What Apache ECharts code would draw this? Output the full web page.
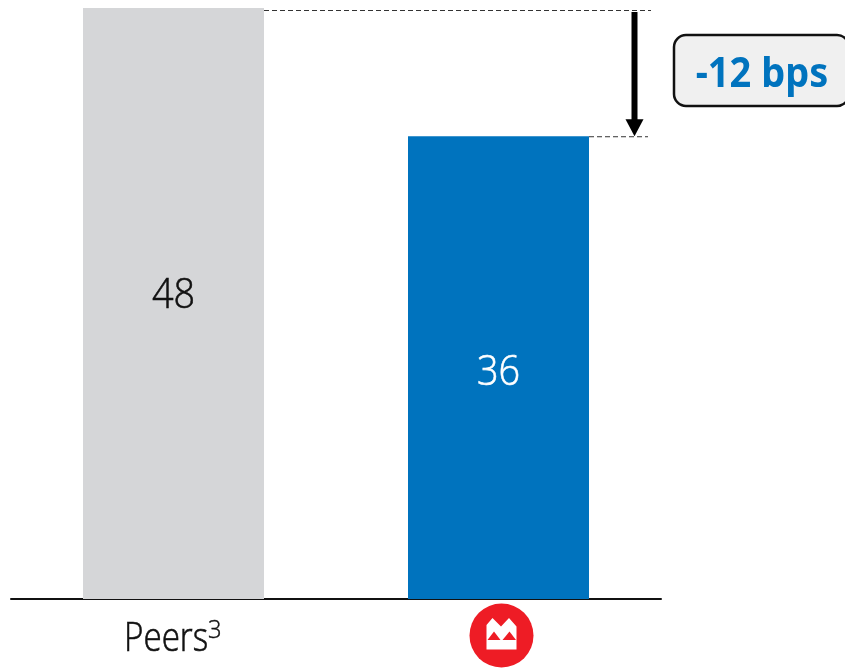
<!DOCTYPE html>
<html>
<head>
<meta charset="utf-8">
<style>html,body{margin:0;padding:0;background:#fff}#chart{width:845px;height:671px}</style>
<script src="https://cdn.jsdelivr.net/npm/echarts@6/dist/echarts.min.js"></script>
</head>
<body>
<div id="chart"></div>
<script>
// Net loan loss ratio comparison, in basis points
const categories = ['Peers', 'BMO'];
const values = [48, 36];
const barColors = ['#D5D6D8', '#0073BE'];
const labelColors = ['#111111', '#FFFFFF'];
const labelYs = [296, 373];
const differenceLabel = '-12 bps';

const axisBase = -7.3;
const BAR_WIDTH = 181;
const FONT = '"Open Sans", "Noto Sans", sans-serif';
const BOLD_FONT = '"Noto Sans", sans-serif';

const chart = echarts.init(document.getElementById('chart'), null, { renderer: 'canvas' });

// Bars run from the axis floor up to their value, with the value printed inside
function renderBar(params, api) {
  const i = api.value(0);
  const top = api.coord([i, api.value(1)]);
  const floor = api.coord([i, axisBase]);
  return {
    type: 'group',
    children: [
      {
        type: 'rect',
        shape: { x: top[0] - BAR_WIDTH / 2, y: top[1], width: BAR_WIDTH, height: floor[1] - top[1] },
        style: { fill: barColors[i] }
      },
      {
        type: 'text',
        x: top[0],
        y: labelYs[i],
        scaleX: 0.88,
        style: {
          text: String(api.value(1)),
          fontFamily: FONT,
          fontSize: 43,
          fontWeight: 300,
          fill: labelColors[i],
          stroke: labelColors[i],
          lineWidth: 0.6,
          align: 'center',
          verticalAlign: 'middle'
        }
      }
    ]
  };
}

chart.setOption({
  animation: false,
  backgroundColor: '#ffffff',
  grid: { left: 11, right: 184, top: 8, bottom: 72 },
  xAxis: {
    type: 'category',
    data: categories,
    axisTick: { show: false },
    axisLine: { onZero: false, lineStyle: { color: '#111111', width: 2 } },
    axisLabel: { show: false }
  },
  yAxis: { type: 'value', min: axisBase, max: 48, show: false, splitLine: { show: false } },
  series: [{
    type: 'custom',
    renderItem: renderBar,
    encode: { x: 0, y: 1 },
    z: 1,
    data: values.map((v, i) => [i, v])
  }]
});

// Annotation layer: positions derive from the chart's scales
const yHigh = chart.convertToPixel({ yAxisIndex: 0 }, values[0]);
const yLow = chart.convertToPixel({ yAxisIndex: 0 }, values[1]);
const xPeers = chart.convertToPixel({ xAxisIndex: 0 }, categories[0]);
const xBmo = chart.convertToPixel({ xAxisIndex: 0 }, categories[1]);
const arrowX = 634.5;
const dash = { stroke: '#333333', lineWidth: 1, lineDash: [5, 3] };

// Bank roundel beneath the second bar
const roundel = {
  type: 'group', x: xBmo + 3, y: 635.5, children: [
    { type: 'circle', shape: { cx: 0, cy: 0, r: 32 }, style: { fill: '#EE1C25' } },
    { type: 'polygon', shape: { points: [[-15, 14], [-15, -10.5], [-9, -17.5], [-0.5, -9], [7.5, -17.5], [15, -9], [15, 14]] }, style: { fill: '#fff' } },
    { type: 'polygon', shape: { points: [[-14, 4.5], [-7.5, -4], [-1, 4.5]] }, style: { fill: '#EE1C25' } },
    { type: 'polygon', shape: { points: [[1, 4.5], [8, -4], [14.5, 4.5]] }, style: { fill: '#EE1C25' } }
  ]
};

chart.setOption({
  graphic: [
    { type: 'line', shape: { x1: xPeers + 90.5, y1: yHigh + 2.5, x2: 651, y2: yHigh + 2.5 }, style: dash },
    { type: 'line', shape: { x1: xBmo + 90.5, y1: yLow + 0.5, x2: 648, y2: yLow + 0.5 }, style: dash },
    { type: 'line', shape: { x1: arrowX, y1: yHigh + 4, x2: arrowX, y2: yLow - 14 }, style: { stroke: '#000', lineWidth: 6 } },
    { type: 'polygon', shape: { points: [[arrowX - 9, yLow - 17], [arrowX + 9, yLow - 17], [arrowX, yLow]] }, style: { fill: '#000' } },
    { type: 'rect', shape: { x: 674, y: 35, width: 175, height: 71, r: 12 }, style: { fill: '#F0F0F0', stroke: '#111', lineWidth: 2.5 } },
    { type: 'text', x: 762, y: 75.5, scaleY: 1.08, style: { text: differenceLabel, fontFamily: BOLD_FONT, fontSize: 38, fontWeight: 'bold', fill: '#0073BE', align: 'center', verticalAlign: 'middle' } },
    { type: 'text', x: 124, y: 640, scaleX: 0.84, style: { text: categories[0], fontFamily: FONT, fontSize: 39.5, fontWeight: 300, fill: '#111111', stroke: '#111111', lineWidth: 0.6, align: 'left', verticalAlign: 'middle' } },
    { type: 'text', x: 208, y: 631, scaleX: 0.95, style: { text: '3', fontFamily: FONT, fontSize: 25, fontWeight: 300, fill: '#111111', stroke: '#111111', lineWidth: 0.4, align: 'left', verticalAlign: 'middle' } },
    roundel
  ]
});
</script>
</body>
</html>
